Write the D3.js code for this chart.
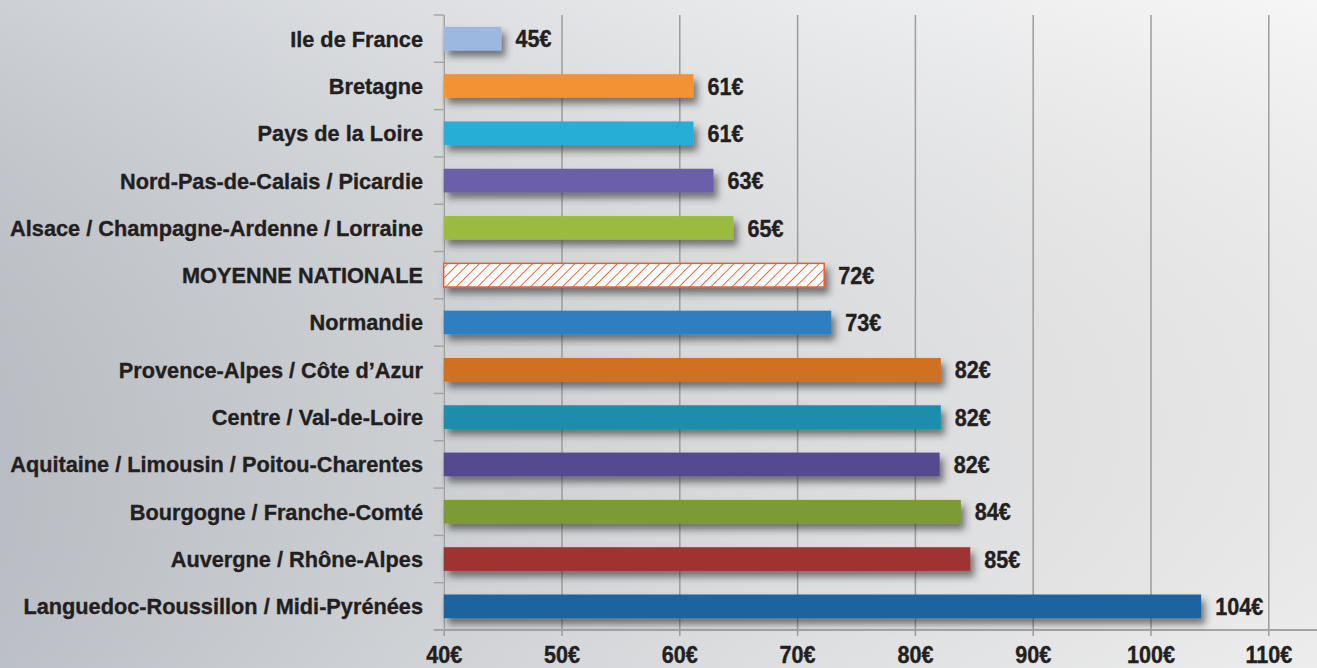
<!DOCTYPE html>
<html><head><meta charset="utf-8">
<script src="https://cdn.jsdelivr.net/npm/d3@7/dist/d3.min.js"></script>
<style>html,body{margin:0;padding:0;overflow:hidden;background:#fff}svg{display:block}</style>
</head><body><svg id="chart" width="1317" height="668"></svg>
<script>
const categories = [
  "Ile de France","Bretagne","Pays de la Loire","Nord-Pas-de-Calais / Picardie",
  "Alsace / Champagne-Ardenne / Lorraine","MOYENNE NATIONALE","Normandie",
  "Provence-Alpes / Côte d’Azur","Centre / Val-de-Loire","Aquitaine / Limousin / Poitou-Charentes",
  "Bourgogne / Franche-Comté","Auvergne / Rhône-Alpes","Languedoc-Roussillon / Midi-Pyrénées"
];
const values = [44.9, 61.2, 61.2, 62.9, 64.6, 72.3, 72.9, 82.2, 82.2, 82.1, 83.9, 84.7, 104.3];
const valueLabels = ["45€","61€","61€","63€","65€","72€","73€","82€","82€","82€","84€","85€","104€"];
const xTicks = [40, 50, 60, 70, 80, 90, 100, 110];
const tickLabels = ["40€","50€","60€","70€","80€","90€","100€","110€"];
const barColors = ["#9db8df","#f39235","#28aed6","#6a5ea8","#9bbb3f","hatch","#2f7fc2","#d07124","#1f8dab","#55488f","#7c9a35","#a13330","#1b64a0"];

const W = 1317, H = 668;
const svg = d3.select("#chart");
const defs = svg.append("defs");

const bg = defs.append("linearGradient").attr("id","bg").attr("x1","0").attr("y1","0").attr("x2","1").attr("y2","0");
bg.append("stop").attr("offset","0%").attr("stop-color","#c2c6cd");
bg.append("stop").attr("offset","30%").attr("stop-color","#d5d8dc");
bg.append("stop").attr("offset","60%").attr("stop-color","#e5e6e8");
bg.append("stop").attr("offset","100%").attr("stop-color","#f4f4f4");
const bgV = defs.append("linearGradient").attr("id","bgv").attr("x1","0").attr("y1","0").attr("x2","0").attr("y2","1");
bgV.append("stop").attr("offset","0%").attr("stop-color","#ffffff").attr("stop-opacity",0.18);
bgV.append("stop").attr("offset","100%").attr("stop-color","#000000").attr("stop-opacity",0.03);

const hatch = defs.append("pattern").attr("id","hatch").attr("patternUnits","userSpaceOnUse")
  .attr("width",7.5).attr("height",7.5).attr("patternTransform","rotate(45)");
hatch.append("rect").attr("width",7.5).attr("height",7.5).attr("fill","#ffffff");
hatch.append("line").attr("x1",0).attr("y1",0).attr("x2",0).attr("y2",7.5)
  .attr("stroke","#f05a2a").attr("stroke-width",1.8);

const sh = defs.append("filter").attr("id","shadow").attr("x","-10%").attr("y","-60%").attr("width","130%").attr("height","260%");
sh.append("feDropShadow").attr("dx",4).attr("dy",6).attr("stdDeviation",3.5)
  .attr("flood-color","#2a2a2a").attr("flood-opacity",0.6);

svg.append("rect").attr("width",W).attr("height",H).attr("fill","url(#bg)");
svg.append("rect").attr("width",W).attr("height",H).attr("fill","url(#bgv)");

const x = d3.scaleLinear().domain([40, 110]).range([443.7, 1268.3]);
const y = d3.scaleBand().domain(categories).range([15, 630]).paddingInner(0.5).paddingOuter(0.25);
const gapHalf = (y.step() - y.bandwidth()) / 2;

const FONT = "'Liberation Sans Narrow', 'Liberation Sans', Arial, sans-serif";
const INK = "#231f20";

// vertical grid lines
const grid = svg.append("g").attr("transform", `translate(0,${y.range()[1]})`)
  .call(d3.axisBottom(x).tickValues(xTicks).tickSizeInner(-(y.range()[1]-y.range()[0])).tickSizeOuter(0).tickFormat(""));
grid.select(".domain").remove();
grid.selectAll(".tick line").attr("stroke","#9c9c9c").attr("stroke-width",1.5);

// y axis line and boundary ticks
svg.append("line").attr("x1",x(40)-0.7).attr("x2",x(40)-0.7).attr("y1",y.range()[0]).attr("y2",y.range()[1])
  .attr("stroke","#cfcfd1").attr("stroke-width",1.2);
const bounds = categories.map(c => y(c) - gapHalf).concat([y(categories[categories.length-1]) + y.bandwidth() + gapHalf]);
svg.append("g").selectAll("line").data(bounds).join("line")
  .attr("x1", x(40) - 10).attr("x2", x(40)).attr("y1", d => d).attr("y2", d => d)
  .attr("stroke","#a2a2a2").attr("stroke-width",1.4);

// x axis
const xAxis = svg.append("g").attr("transform", `translate(0,${y.range()[1]})`)
  .call(d3.axisBottom(x).tickValues(xTicks).tickSizeInner(6).tickSizeOuter(0).tickFormat((d,i)=>tickLabels[i]));
xAxis.select(".domain").attr("d", `M${x(40)-10},0H${W}`).attr("stroke","#a4a4a4").attr("stroke-width",2.2);
xAxis.selectAll(".tick line").attr("stroke","#9c9c9c").attr("stroke-width",1.5);
xAxis.selectAll(".tick text").attr("font-family",FONT).attr("font-weight","bold").attr("font-size",24)
  .attr("fill",INK).attr("stroke",INK).attr("stroke-width",0.4).attr("dy",null).attr("y",33);

// bars
svg.append("g").selectAll("rect").data(categories).join("rect")
  .attr("x", x(40))
  .attr("y", d => y(d))
  .attr("width", (d,i) => x(values[i]) - x(40))
  .attr("height", y.bandwidth())
  .attr("fill", (d,i) => barColors[i] === "hatch" ? "url(#hatch)" : barColors[i])
  .attr("stroke", (d,i) => barColors[i] === "hatch" ? "#f05a2a" : "none")
  .attr("stroke-width", 1.5)
  .attr("filter","url(#shadow)");

// value labels
const vl = svg.append("g").selectAll("text").data(categories).join("text")
  .attr("x", (d,i) => x(values[i]) + 14)
  .attr("y", d => y(d) + y.bandwidth()/2)
  .attr("dy","0.36em")
  .attr("font-family",FONT).attr("font-weight","bold").attr("font-size",24)
  .attr("fill",INK).attr("stroke",INK).attr("stroke-width",0.4)
  .text((d,i) => valueLabels[i]);

// category labels
const cl = svg.append("g").selectAll("text").data(categories).join("text")
  .attr("text-anchor","end")
  .attr("font-family",FONT).attr("font-weight","bold").attr("font-size",22)
  .attr("fill",INK).attr("stroke",INK).attr("stroke-width",0.35)
  .text(d => d);

// condensed look: horizontal scaling to the reference widths
let maxW = 0; cl.each(function(){ maxW = Math.max(maxW, this.getComputedTextLength()); });
const sx = 413 / maxW;
cl.attr("transform", d => `translate(423,${y(d) + y.bandwidth()/2}) scale(${sx},1)`).attr("dy","0.36em");
let vw = 0; vl.each(function(){ if (this.textContent === "104€") vw = this.getComputedTextLength(); });
const vsx = 48 / vw;
vl.each(function(){
  const tx = +this.getAttribute("x"), ty = +this.getAttribute("y");
  d3.select(this).attr("x",0).attr("y",0).attr("transform",`translate(${tx},${ty}) scale(${vsx},1)`);
});
xAxis.selectAll(".tick text").attr("transform", `scale(${vsx},1)`);
</script></body></html>
